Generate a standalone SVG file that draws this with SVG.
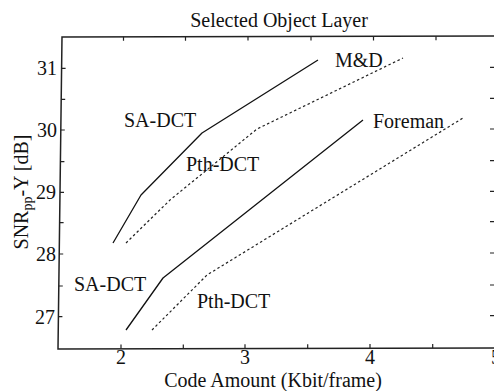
<svg xmlns="http://www.w3.org/2000/svg" width="494" height="391" viewBox="0 0 494 391">
<style>
text{font-family:"Liberation Serif","Times New Roman",serif;font-size:20px;fill:#111}
.ax{fill:none;stroke:#222;stroke-width:1.5}
.tk{stroke:#222;stroke-width:1.2}
.sa{fill:none;stroke:#111;stroke-width:1.3;stroke-linejoin:round}
.pth{fill:none;stroke:#222;stroke-width:1.2;stroke-dasharray:2.5 2.5}
</style>
<rect width="494" height="391" fill="#fff"/>
<text id="title" x="279" y="27" text-anchor="middle">Selected Object Layer</text>
<g id="axes">
<path class="ax" d="M495,36 L62,37 L58,349 L495,348"/>
<g id="yticks">
<path class="tk" d="M61.6,68.3h4 M61.2,99.3h4 M60.8,130h4 M60.4,161.7h4 M60,192.3h4 M59.6,222.7h4 M59.2,254h4 M58.8,286h4 M58.4,316.7h4"/>
<path class="tk" d="M494,67.3h-4 M494,98.3h-4 M494,129h-4 M494,160.7h-4 M494,191.3h-4 M494,221.7h-4 M494,253h-4 M494,285h-4 M494,315.7h-4"/>
</g>
<g id="xticks">
<path class="tk" d="M121,348.5v-4 M183.3,348.4v-4 M245,348.3v-4 M307.7,348.2v-4 M370,348.1v-4 M432.7,348v-4"/>
<path class="tk" d="M123.5,36.8v4 M185.5,36.7v4 M248,36.6v4 M311,36.5v4 M373.5,36.4v4 M436,36.3v4"/>
</g>
<g id="ylabels" text-anchor="end">
<text x="57" y="75">31</text>
<text x="57" y="137">30</text>
<text x="56" y="199">29</text>
<text x="56" y="261">28</text>
<text x="55" y="324">27</text>
</g>
<g id="xlabels" text-anchor="middle">
<text x="121" y="364">2</text>
<text x="245" y="364">3</text>
<text x="370" y="364">4</text>
<text x="496" y="364">5</text>
</g>
<text id="xtitle" x="273" y="387" text-anchor="middle">Code Amount (Kbit/frame)</text>
<text id="ytitle" transform="translate(28,192) rotate(-90)" text-anchor="middle" font-size="19">SNR<tspan font-size="14" dy="4">pp</tspan><tspan dy="-4">-Y [dB]</tspan></text>
</g>
<g id="curves">
<polyline id="md-sa" class="sa" points="113,243 141,195 202,133 318,60"/>
<polyline id="md-pth" class="pth" points="126,243 170,200 257,129 403,58"/>
<polyline id="fm-sa" class="sa" points="126,330 163,278 363,120"/>
<polyline id="fm-pth" class="pth" points="152,330 207,275 463,118"/>
</g>
<g id="labels">
<text x="335" y="67">M&amp;D</text>
<text x="373" y="128">Foreman</text>
<text x="124" y="127">SA-DCT</text>
<text x="186" y="171">Pth-DCT</text>
<text x="74" y="291">SA-DCT</text>
<text x="197" y="308">Pth-DCT</text>
</g>
</svg>
